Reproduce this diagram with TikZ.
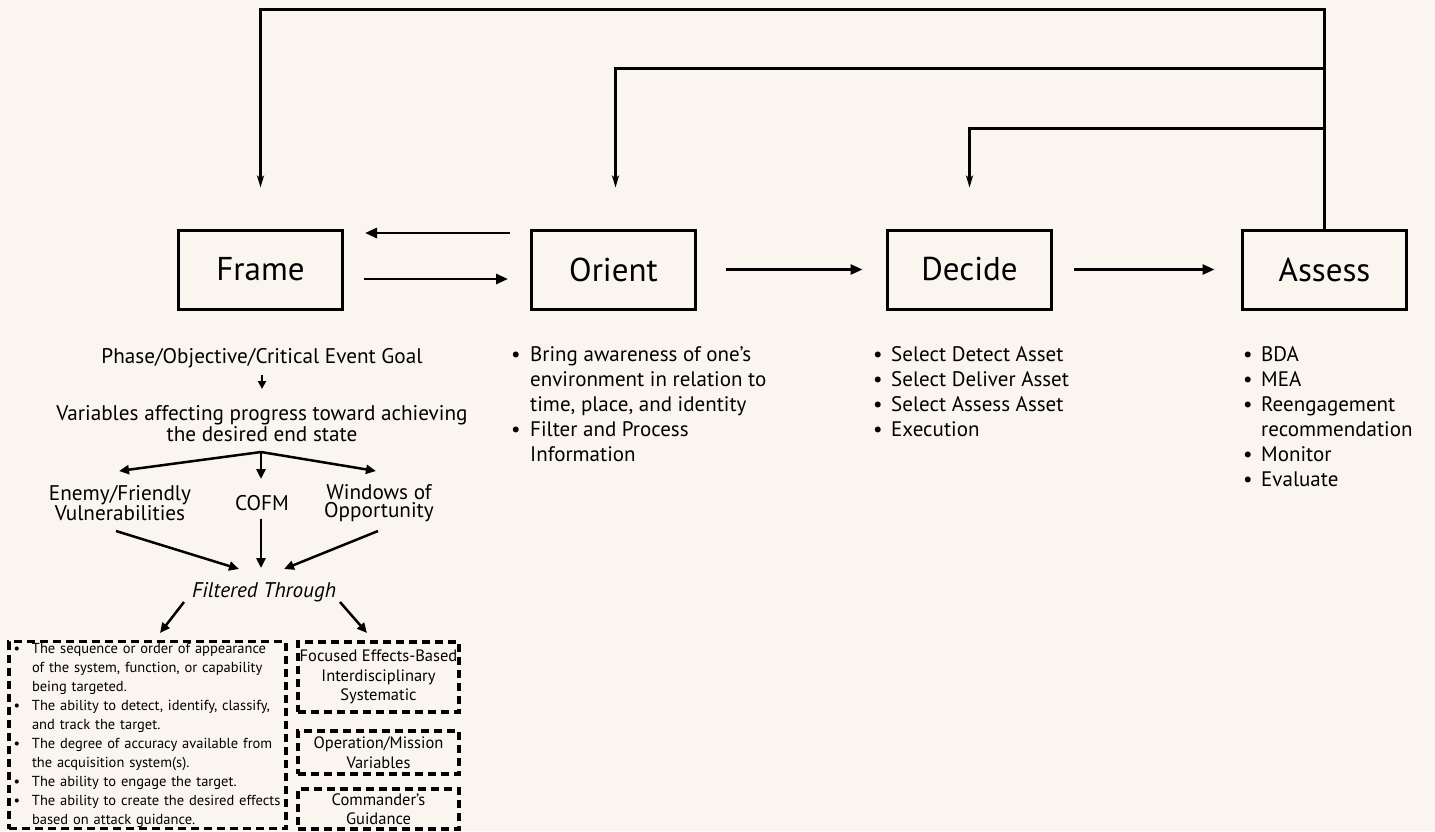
\documentclass[tikz,border=0pt]{standalone}
\usepackage{fontspec}
\setmainfont{PT Sans}
\usetikzlibrary{arrows.meta,calc}
\definecolor{bg}{HTML}{FAF6EF}
\newcommand\bl[1]{\makebox[#1][l]{\textbullet}}
\newcommand\ind[1]{\hspace*{#1}}
\begin{document}
\begin{tikzpicture}[x=1pt,y=-1pt,
  box/.style={draw, line width=3pt, minimum width=164pt, minimum height=79pt, inner sep=0pt, font=\fontsize{33}{38}\selectfont},
  arr/.style={line width=2.8pt, -{Triangle[length=12pt,width=10pt]}},
  barr/.style={line width=2.5pt, -{Triangle[length=10pt,width=9pt]}},
  sarr/.style={line width=2pt, -{Triangle[length=8pt,width=8pt]}},
  farr/.style={line width=3pt, -{Stealth[length=12pt,width=7pt,inset=3pt]}},
  lbl/.style={inner sep=0pt, align=center, font=\fontsize{21.2}{18.5}\selectfont},
  list/.style={inner sep=0pt, align=left, anchor=north west, font=\fontsize{21}{25}\selectfont},
  dbox/.style={draw, line width=3.1pt, dash pattern=on 8pt off 5pt, inner sep=0pt},
  sbox/.style={dbox, minimum width=161pt, align=center, font=\fontsize{16.5}{19.5}\selectfont},
]
\path[fill=bg] (0,0) rectangle (1435,831);

% main boxes
\node[box] (frame) at (260.5,269.5) {Frame};
\node[box] (orient) at (613.5,269.5) {Orient};
\node[box] (decide) at (969.5,269.5) {Decide};
\node[box] (assess) at (1324.5,269.5) {Assess};

% feedback loops
\coordinate (t1) at (1324.5,9);
\coordinate (t2) at (1324.5,68);
\coordinate (t3) at (1324.5,128);
\draw[farr, shorten >=41pt] (assess.north) -- (t1) -| (frame.north);
\draw[farr, shorten >=41pt] (t2) -| ([xshift=2pt]orient.north);
\draw[farr, shorten >=41pt] (t3) -| (decide.north);

% horizontal arrows
\draw[arr, shorten <=20pt, shorten >=22pt] ([yshift=-9.5pt]frame.east) -- ([yshift=-9.5pt]orient.west);
\draw[arr, shorten <=20pt, shorten >=21pt] ([yshift=36.5pt]orient.west) -- ([yshift=36.5pt]frame.east);
\draw[arr, shorten <=28.5pt, shorten >=23.5pt] (orient.east) -- (decide.west);
\draw[arr, shorten <=20.5pt, shorten >=26.5pt] (decide.east) -- (assess.west);

% frame details
\node[lbl] (phase) at (262,358) {Phase/Objective/Critical Event Goal};
\node[lbl] (vars) at (262,423.5) {Variables affecting progress toward achieving\\the desired end state};
\draw[sarr, shorten <=17pt, shorten >=34.5pt] (phase.center) -- (vars.center);

\coordinate (j) at (261,452);
\coordinate (eT) at (119,471);
\coordinate (cT) at (261,479);
\coordinate (wT) at (376,471);
\draw[barr] (j) -- (eT);
\draw[barr] (j) -- (cT);
\draw[barr] (j) -- (wT);

\node[lbl] (enemy) at (120,503) {Enemy/Friendly\\Vulnerabilities};
\node[lbl] (cofm) at (262,503) {COFM};
\node[lbl] (windows) at (379,503) {Windows of\\Opportunity};

\node[lbl, font=\fontsize{21.2}{18.5}\selectfont\itshape] (filt) at (264,592) {Filtered Through};

\coordinate (eS) at (116,531);
\coordinate (cS) at (261,519);
\coordinate (wS) at (378,531);
\coordinate (fL) at (239,569);
\coordinate (fC) at (261,568);
\coordinate (fR) at (284,569);
\draw[barr] (eS) -- (fL);
\draw[barr] (cS) -- (fC);
\draw[barr] (wS) -- (fR);

\coordinate (gL) at (184,602);
\coordinate (gR) at (340,602);
\coordinate (hL) at (160,633);
\coordinate (hR) at (367,633);
\draw[barr] (gL) -- (hL);
\draw[barr] (gR) -- (hR);

% dashed boxes
\node[dbox, minimum width=277pt, minimum height=187pt, text width=268pt, inner xsep=4.5pt, align=left,
  font=\fontsize{14.5}{18.9}\selectfont] (lbox) at (147.5,735.4) {%
\bl{18.5pt}The sequence or order of appearance\\
\ind{18.5pt}of the system, function, or capability\\
\ind{18.5pt}being targeted.\\
\bl{18.5pt}The ability to detect, identify, classify,\\
\ind{18.5pt}and track the target.\\
\bl{18.5pt}The degree of accuracy available from\\
\ind{18.5pt}the acquisition system(s).\\
\bl{18.5pt}The ability to engage the target.\\
\bl{18.5pt}The ability to create the desired effects\\
\ind{18.5pt}based on attack guidance.};

\node[sbox, minimum height=70pt] (rb1) at (378.5,677) {Focused Effects-Based\\Interdisciplinary\\Systematic};
\node[sbox, minimum height=43pt] (rb2) at (378.5,752.5) {Operation/Mission\\Variables};
\node[sbox, minimum height=40pt] (rb3) at (378.5,809) {Commander’s\\Guidance};

% lists
\node[list] (olist) at (511,346) {%
\bl{19pt}Bring awareness of one’s\\
\ind{19pt}environment in relation to\\
\ind{19pt}time, place, and identity\\
\bl{19pt}Filter and Process\\
\ind{19pt}Information};
\node[list] (dlist) at (873,346) {%
\bl{18pt}Select Detect Asset\\
\bl{18pt}Select Deliver Asset\\
\bl{18pt}Select Assess Asset\\
\bl{18pt}Execution};
\node[list] (alist) at (1243,346) {%
\bl{18pt}BDA\\
\bl{18pt}MEA\\
\bl{18pt}Reengagement\\
\ind{18pt}recommendation\\
\bl{18pt}Monitor\\
\bl{18pt}Evaluate};
\end{tikzpicture}
\end{document}
